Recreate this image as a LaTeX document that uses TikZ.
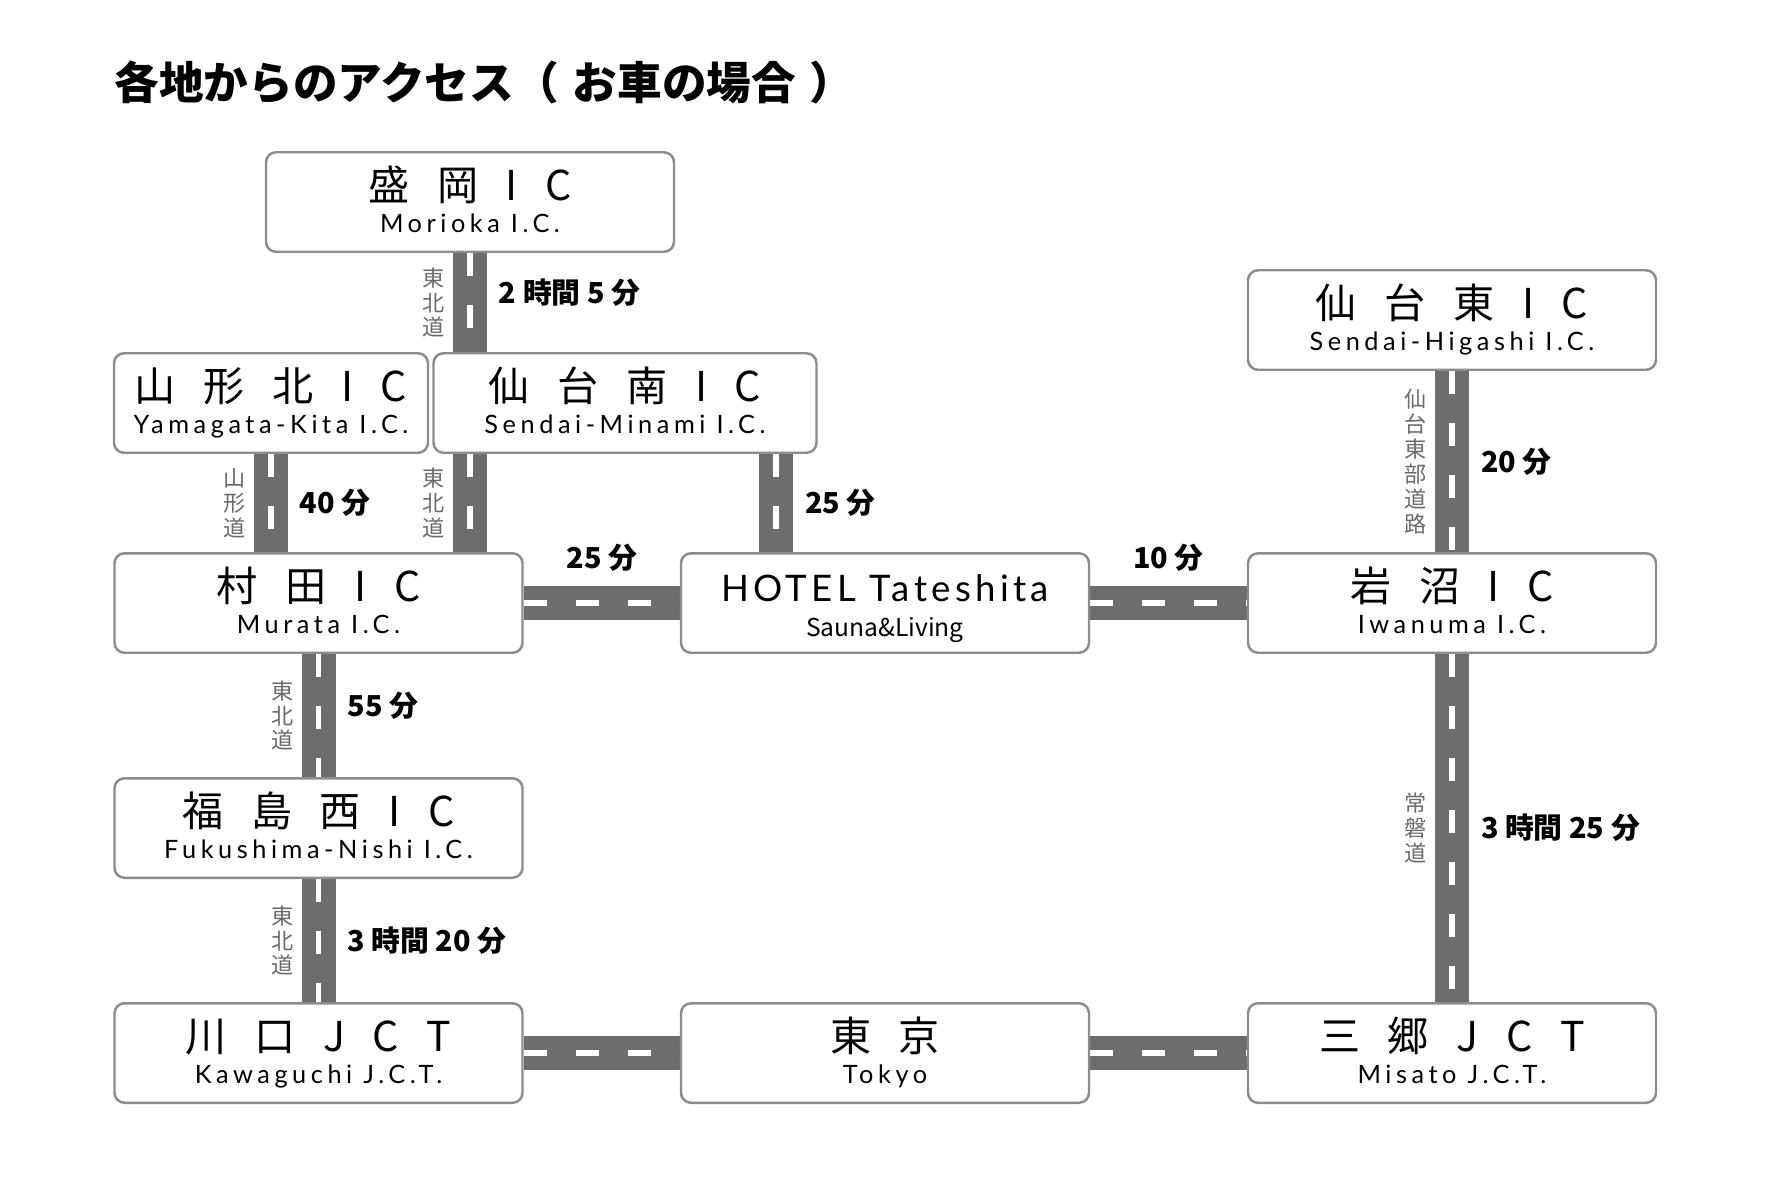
\documentclass[tikz,border=0pt]{standalone}
\usepackage{fontspec}
\setmainfont{Noto Sans CJK JP}
\newfontfamily\jpfont[LetterSpace=45]{Noto Sans CJK JP}
\newfontfamily\enfont[LetterSpace=18]{Lato}
\newfontfamily\hotelfont[LetterSpace=12]{Lato}
\usetikzlibrary{backgrounds}

\definecolor{roadgray}{HTML}{6D6D6D}
\definecolor{boxgray}{HTML}{8C8C8C}
\definecolor{namegray}{HTML}{6A6A6A}

\newcommand\jpsize{\jpfont\fontsize{11.7pt}{14pt}\selectfont}
\newcommand\ensize{\enfont\fontsize{7.2pt}{9pt}\selectfont}
\newcommand\hotelsize{\hotelfont\fontsize{10.4pt}{12pt}\selectfont}
\newcommand\subsize{\rmfamily\fontsize{7pt}{9pt}\selectfont\raisebox{-0.03cm}}
\newcommand\sign[2]{\vbox to 0.995cm{\offinterlineskip\vskip 0.48cm
    \hbox to 0pt{\hss\smash{\jpsize #1}\hss}\vskip 0.32cm
    \hbox to 0pt{\hss\smash{\ensize #2}\hss}\vss}}

\begin{document}
\begin{tikzpicture}[x=1cm, y=-1cm,
    ic/.style={draw=boxgray, line width=0.7pt, fill=white, rounded corners=0.1cm,
      minimum width=4.08cm, minimum height=0.995cm, inner sep=0pt},
    road/.style={draw=roadgray, line width=0.34cm,
      postaction={draw=white, line width=1.5pt, dash pattern=on 0.23cm off 0.29cm}},
    hwname/.style={text=namegray, font=\fontsize{6.3pt}{7.1pt}\selectfont, align=center,
      inner sep=0pt, outer sep=0pt},
    mins/.style={font=\bfseries\fontsize{8.2pt}{10pt}\selectfont, inner sep=0pt, outer sep=0pt}]
    \useasboundingbox (0,0) rectangle (17.71,11.82);
    \node[anchor=west, inner sep=0pt, font=\bfseries\fontsize{12.7pt}{15pt}\selectfont] (title)
        at (1.14,0.82) {各地からのアクセス（\hspace{0.14cm}お車の場合\hspace{0.14cm}）};

    % interchanges
    \node[ic] (morioka) at (4.70,2.02) {\sign{盛 岡 I C}{Morioka I.C.}};
    \node[ic, minimum width=3.14cm] (yamagata) at (2.71,4.03) {\sign{山 形 北 I C}{Yamagata-Kita I.C.}};
    \node[ic, minimum width=3.83cm] (minami) at (6.25,4.03) {\sign{仙 台 南 I C}{Sendai-Minami I.C.}};
    \node[ic] (higashi) at (14.52,3.20) {\sign{仙 台 東 I C}{Sendai-Higashi I.C.}};
    \node[ic] (murata) at (3.185,6.03) {\sign{村 田 I C}{Murata I.C.}};
    \node[ic] (hotel) at (8.85,6.03) {\sign{\hotelsize HOTEL Tateshita}{\subsize{Sauna\&Living}}};
    \node[ic] (iwanuma) at (14.52,6.03) {\sign{岩 沼 I C}{Iwanuma I.C.}};
    \node[ic] (fukushima) at (3.185,8.28) {\sign{福 島 西 I C}{Fukushima-Nishi I.C.}};
    \node[ic] (kawaguchi) at (3.185,10.53) {\sign{川 口 J C T}{Kawaguchi J.C.T.}};
    \node[ic] (tokyo) at (8.85,10.53) {\sign{東 京}{Tokyo}};
    \node[ic] (misato) at (14.52,10.53) {\sign{三 郷 J C T}{Misato J.C.T.}};
    \coordinate (turn) at ([xshift=-1.09cm]hotel.north);

    % roads behind the signs
    \begin{scope}[on background layer]
        \fill[white] (0,0) rectangle (17.71,11.82);
        \draw[road] (morioka.south) -- (morioka.south |- minami.north)
            node[midway, left=0.25cm, hwname] (hw1) {東\\北\\道}
            node[midway, right=0.29cm, yshift=0.1cm, mins] (t1) {2 時間 5 分};
        \draw[road] (morioka.south |- minami.south) -- (morioka.south |- murata.north)
            node[midway, left=0.25cm, hwname] (hw2) {東\\北\\道};
        \draw[road] (yamagata.south) -- (yamagata.south |- murata.north)
            node[midway, left=0.25cm, hwname] (hw3) {山\\形\\道}
            node[midway, right=0.29cm, mins] (t2) {40 分};
        \draw[road] (turn |- minami.south) -- (turn)
            node[midway, right=0.29cm, mins] (t3) {25 分};
        \draw[road] (murata.east) -- (hotel.west)
            node[midway, above=0.32cm, mins] (t4) {25 分};
        \draw[road] (hotel.east) -- (iwanuma.west)
            node[midway, above=0.32cm, mins] (t5) {10 分};
        \draw[road] (higashi.south) -- (iwanuma.north)
            node[midway, left=0.25cm, hwname] (hw4) {仙\\台\\東\\部\\道\\路}
            node[midway, right=0.29cm, mins] (t6) {20 分};
        \draw[road] (murata.south) -- (fukushima.north)
            node[midway, left=0.25cm, hwname] (hw5) {東\\北\\道}
            node[midway, right=0.29cm, yshift=0.1cm, mins] (t7) {55 分};
        \draw[road] (fukushima.south) -- (kawaguchi.north)
            node[midway, left=0.25cm, hwname] (hw6) {東\\北\\道}
            node[midway, right=0.29cm, mins] (t8) {3 時間 20 分};
        \draw[road] (iwanuma.south) -- (misato.north)
            node[midway, left=0.25cm, hwname] (hw7) {常\\磐\\道}
            node[midway, right=0.29cm, mins] (t9) {3 時間 25 分};
        \draw[road] (kawaguchi.east) -- (tokyo.west);
        \draw[road] (tokyo.east) -- (misato.west);
    \end{scope}
\end{tikzpicture}
\end{document}
